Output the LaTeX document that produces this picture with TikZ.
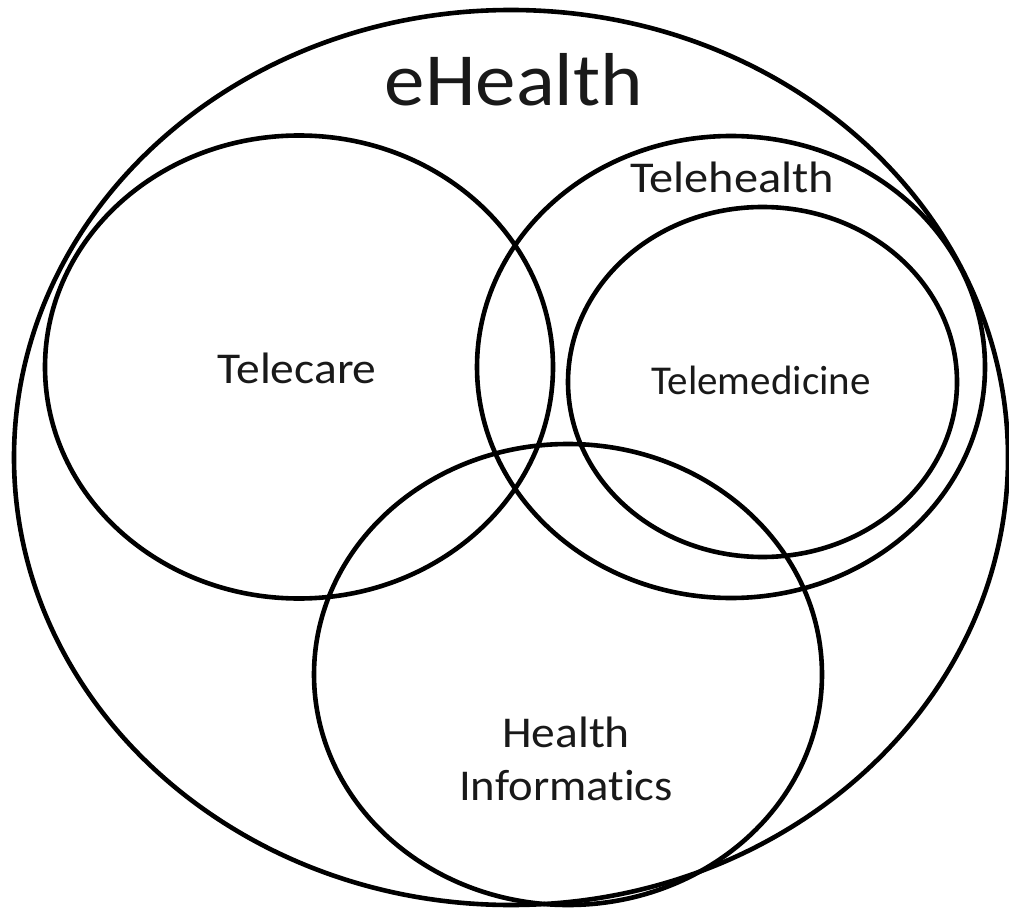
\documentclass[tikz,border=0pt]{standalone}
\usepackage{fontspec}
\setmainfont{Carlito}[Ligatures=NoCommon]
\usetikzlibrary{shapes.geometric}
\tikzset{
  ring/.style={draw=black, line width=4.6pt, ellipse, inner sep=0pt},
  lbl/.style={anchor=base, inner sep=0pt, text=black!90}
}
\newcommand{\wide}[2]{\scalebox{#1}[1]{#2}}
\begin{document}
\begin{tikzpicture}[x=1pt,y=-1pt]
\useasboundingbox (0,0) rectangle (1009,909);
\node[ring, minimum width=994pt, minimum height=895pt] (ehealth) at (511,457.5) {};
\node[ring, minimum width=508pt, minimum height=463pt] (telecare) at (299,367) {};
\node[ring, minimum width=508pt, minimum height=462pt] (telehealth) at (731,367) {};
\node[ring, minimum width=389pt, minimum height=350pt] (telemed) at (762.5,382) {};
\node[ring, minimum width=508pt, minimum height=461pt] (hinf) at (568,674.5) {};
\node[lbl, font=\fontsize{75}{90}\selectfont] (t1) at (514,106) {\wide{1.08}{eHealth}};
\node[lbl, font=\fontsize{44}{52}\selectfont] (t2) at (732,193) {\wide{1.1}{Telehealth}};
\node[lbl, font=\fontsize{44}{52}\selectfont] (t3) at (297,383) {\wide{1.08}{Telecare}};
\node[lbl, font=\fontsize{41}{49}\selectfont] (t4) at (761,394) {\wide{1.0}{Telemedicine}};
\node[lbl, font=\fontsize{44}{52}\selectfont] (t5) at (566,747) {\wide{1.08}{Health}};
\node[lbl, font=\fontsize{44}{52}\selectfont] (t6) at (566,800) {\wide{1.06}{Informatics}};
\end{tikzpicture}
\end{document}
